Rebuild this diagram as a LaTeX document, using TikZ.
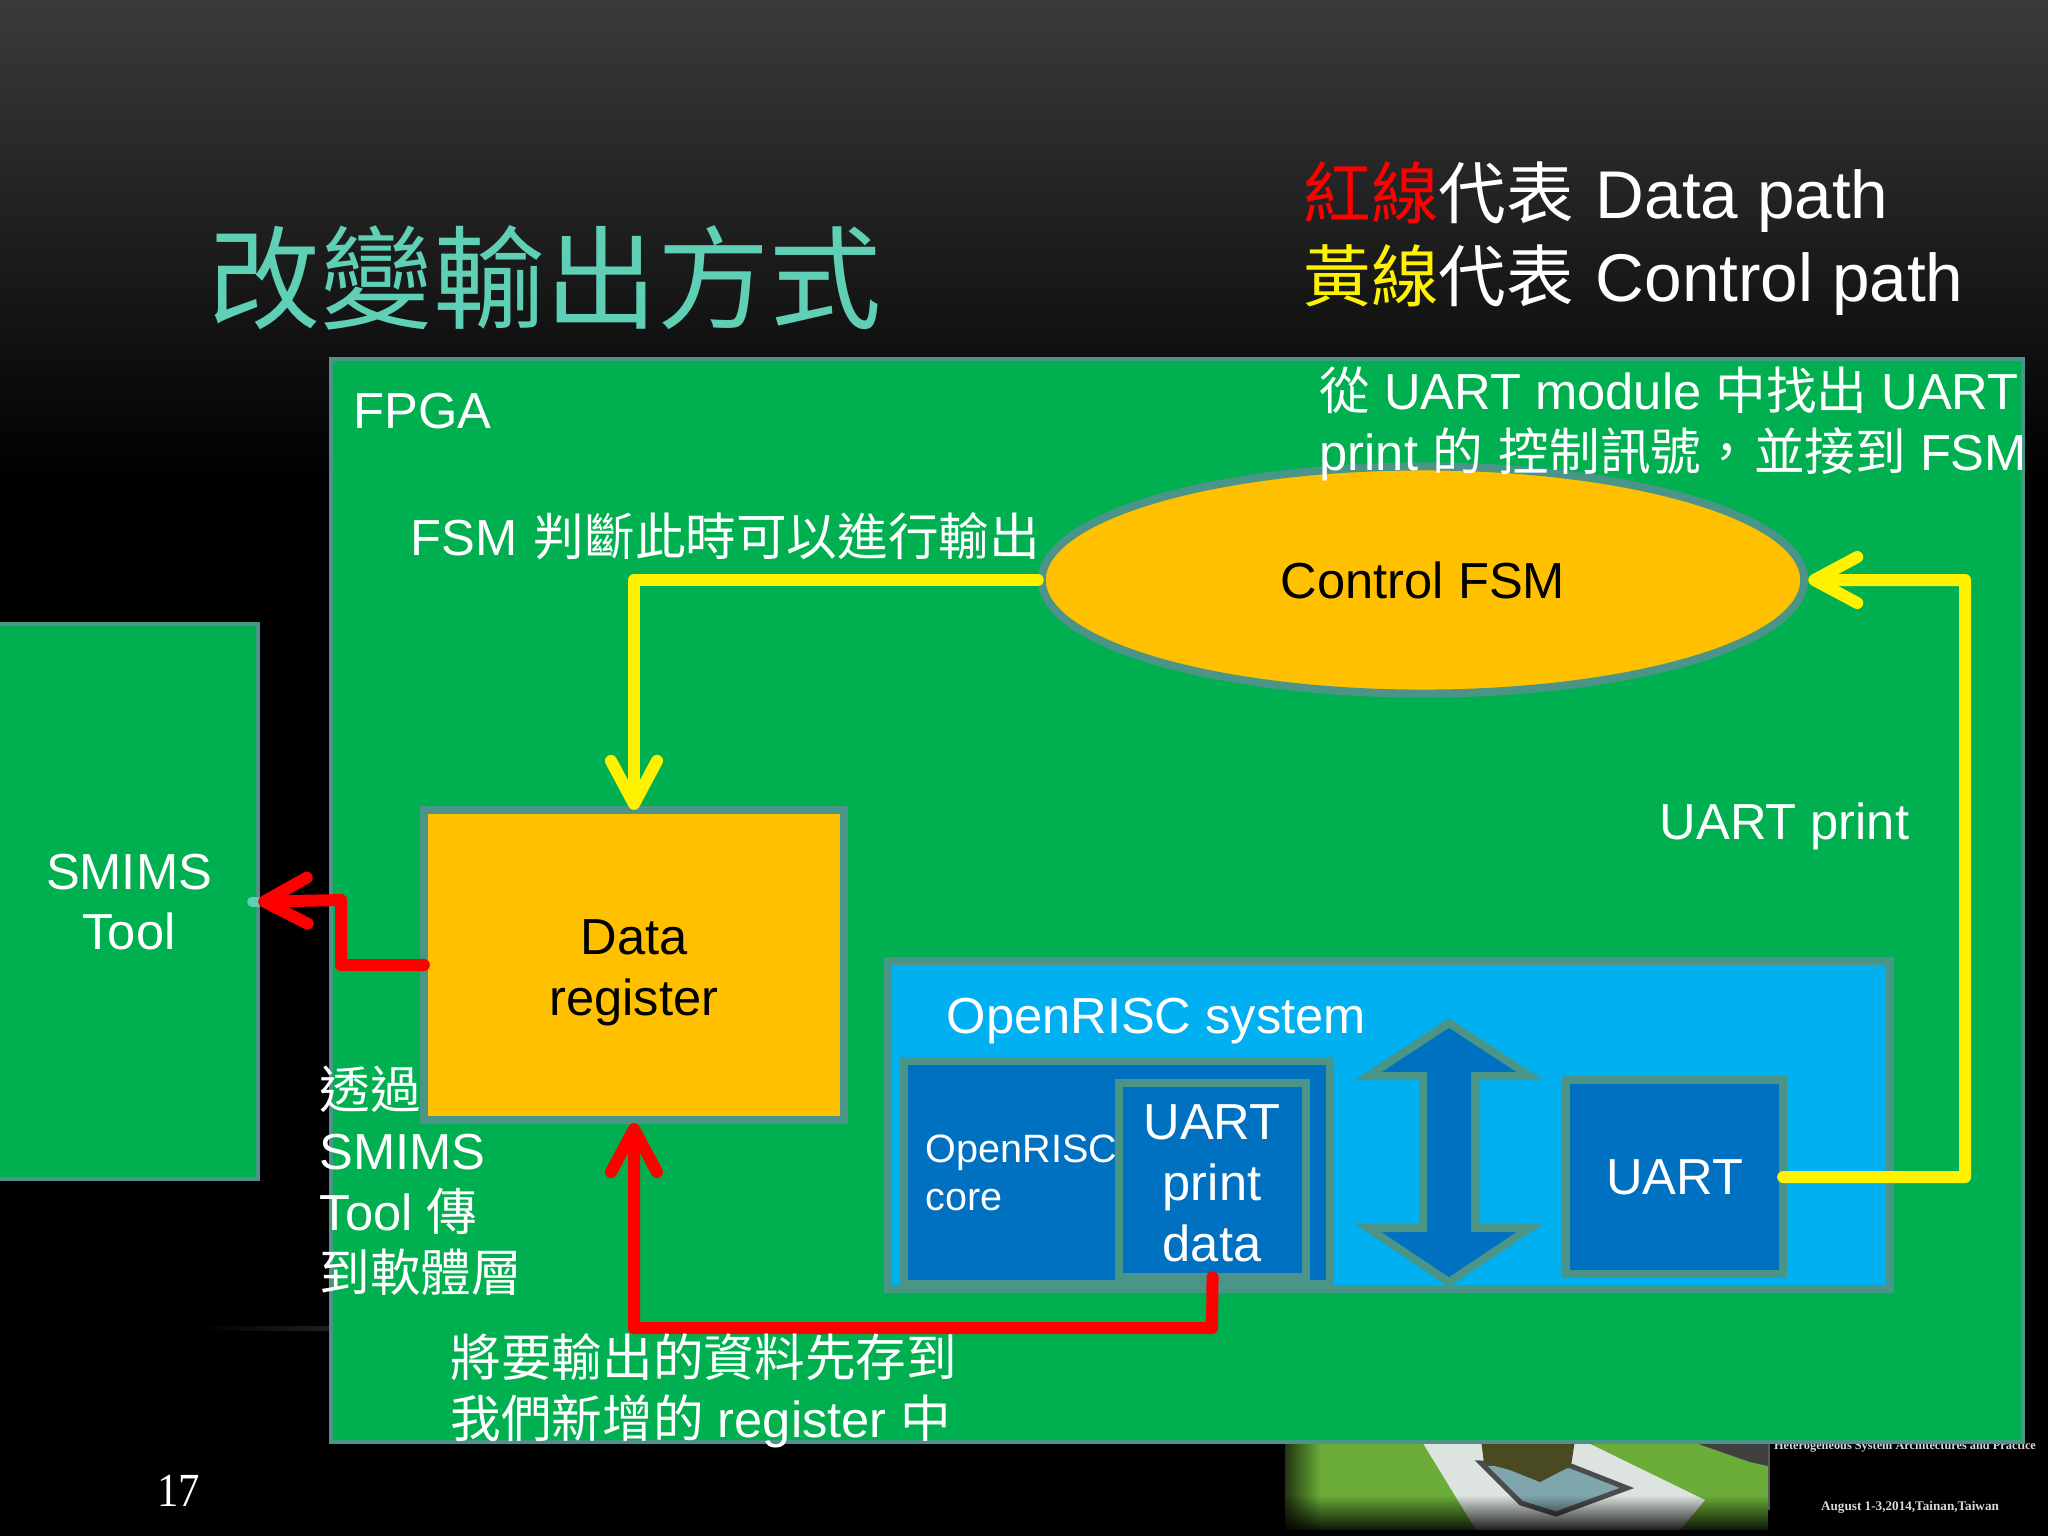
\documentclass[tikz,border=0pt]{standalone}
\usepackage{fontspec}
\setmainfont{Liberation Sans}
\newfontfamily\cjkfont{Noto Sans CJK TC}
\newfontfamily\serifpart{Liberation Serif}
\newcommand{\zh}[1]{{\cjkfont #1}}
\usetikzlibrary{positioning}
\usetikzlibrary{arrows.meta}
\usetikzlibrary{shapes.geometric}
\usetikzlibrary{fadings}

\definecolor{fpgagreen}{HTML}{00B050}
\definecolor{amberfill}{HTML}{FFC000}
\definecolor{sysblue}{HTML}{00B0F0}
\definecolor{coreblue}{HTML}{0070C0}
\definecolor{edgeteal}{HTML}{4A9488}
\definecolor{titlemint}{HTML}{5FCFB5}
\definecolor{grassgreen}{HTML}{6BAD38}
\definecolor{pathgrey}{HTML}{DDE3DF}
\definecolor{pondblue}{HTML}{7FA6AC}
\definecolor{pondshade}{HTML}{4A4A22}

\tikzset{
  thinbox/.style={draw=edgeteal, line width=0.04cm, fill=fpgagreen, inner sep=0, outer sep=0},
  wideedge/.style={draw=edgeteal, line width=0.08cm, inner sep=0, outer sep=0},
  amberbox/.style={wideedge, fill=amberfill, text=black},
  blockbox/.style={wideedge, fill=coreblue, text=white},
  plainlabel/.style={text=white, inner sep=0, anchor=base west, align=left},
  regular/.style={font=\fontsize{14.4}{17.3}\selectfont},
  datapath/.style={draw=red, line width=0.12cm, line cap=round, line join=round,
    -{Straight Barb[round,length=0.43cm,width=0.46cm]}},
  controlpath/.style={draw=yellow, line width=0.12cm, line cap=round, line join=round,
    -{Straight Barb[round,length=0.43cm,width=0.46cm]}},
  tinyserif/.style={text=white!85!black, inner sep=0, anchor=base}
}

\begin{document}
\begin{tikzpicture}[x=0.01cm, y=-0.01cm, regular]
  \useasboundingbox (0,0) rectangle (2048,1536);
  \fill[black] (0,0) rectangle (2048,1536);
  \shade[top color=black!77!white, bottom color=black] (0,0) rectangle (2048,480);
  \shade[left color=black, right color=black!88!white] (200,1326) rectangle (329,1330);

  % photo in the lower corner
  \fill[grassgreen] (1285,1440) rectangle (1768,1530);
  \fill[pathgrey] (1421,1440) -- (1582,1440) -- (1705,1500) -- (1680,1530) -- (1476,1530) -- cycle;
  \fill[pondblue, draw=black!70, line width=0.05cm] (1481,1463) -- (1571,1466) -- (1627,1488) -- (1556,1514) -- (1521,1503) -- cycle;
  \fill[pondshade] (1481,1440) -- (1575,1440) -- (1571,1466) -- (1540,1482) -- (1510,1470) -- (1484,1463) -- cycle;
  \fill[black!75] (1687,1440) -- (1768,1440) -- (1768,1466) -- (1750,1462) -- cycle;
  \fill[black, path fading=north] (1270,1495) rectangle (1775,1535);
  \fill[black, path fading=east] (1270,1440) rectangle (1320,1535);
  \fill[black!65!white] (1768,1443) rectangle (1770,1510);
  \node[tinyserif, font=\serifpart\bfseries\fontsize{3.5}{5}\selectfont] (venuetext) at (1905,1449) {Heterogeneous System Architectures and Practice};
  \node[tinyserif, font=\serifpart\bfseries\fontsize{3.75}{5}\selectfont] (datetext) at (1910,1510) {August 1-3,2014,Tainan,Taiwan};
  \node[text=white, inner sep=0, anchor=base west, xscale=0.9, font=\serifpart\fontsize{13.5}{16}\selectfont] (pagenum) at (157,1506) {17};

  % headings
  \node[inner sep=0, anchor=base west, text=titlemint, font=\cjkfont\fontsize{31.9}{38}\selectfont] (title) at (208,320) {改變輸出方式};
  \node[plainlabel, font=\fontsize{19.2}{23}\selectfont] (legenddata) at (1303,218) {\textcolor{red}{\zh{紅線}}\zh{代表}\hspace{0.9pt} Data path};
  \node[plainlabel, font=\fontsize{19.2}{23}\selectfont] (legendctrl) at (1303,301) {\textcolor{yellow}{\zh{黃線}}\zh{代表}\hspace{0.9pt} Control path};

  % boards
  \node[thinbox, minimum width=2.60cm, minimum height=5.55cm, anchor=north west] (smims) at (-2,624) {};
  \node[thinbox, minimum width=16.91cm, minimum height=10.82cm, anchor=north west] (fpga) at (331,359) {};
  \node[text=white, inner sep=0, align=center] (smimstext) at (129,902) {SMIMS\\Tool};
  \node[plainlabel] (fpgatext) at (353,428) {FPGA};

  % blocks
  \node[amberbox, minimum width=4.20cm, minimum height=3.10cm] (dataregister) at (634,965) {};
  \node[text=black, inner sep=0, align=center] (dataregtext) at (634,973) {Data\\register};
  \node[amberbox, ellipse, outer sep=0.04cm, minimum width=7.62cm, minimum height=2.27cm] (ctrlfsm) at (1423,580) {Control FSM};

  \node[wideedge, fill=sysblue, minimum width=10.01cm, minimum height=3.28cm, anchor=north west] (system) at (888,961) {};
  \node[blockbox, minimum width=4.26cm, minimum height=2.23cm, anchor=north west] (core) at (904,1061) {};
  \node[blockbox, minimum width=1.87cm, minimum height=1.94cm, anchor=north west] (printdata) at (1119,1083) {};
  \node[text=white, inner sep=0, align=center] (printtext) at (1212,1183) {UART\\print\\data};
  \node[blockbox, minimum width=2.17cm, minimum height=1.94cm, anchor=north west] (uart) at (1566,1080) {UART};
  \draw[wideedge, fill=coreblue] (1449,1023) -- (1530,1076) -- (1475,1076) -- (1475,1228) -- (1530,1228)
    -- (1449,1282) -- (1368,1228) -- (1423,1228) -- (1423,1076) -- (1368,1076) -- cycle;
  \node[plainlabel] (systemtext) at (946,1033) {OpenRISC system};
  \node[plainlabel, font=\fontsize{11.25}{13.6}\selectfont] (coretext) at (925,1210) {OpenRISC\\core};

  % connectors
  \draw[titlemint, line width=0.10cm, line cap=round] (smims.east) -- ++(-6,0);
  \draw[datapath] (dataregister.west) -- (341,965) -- (341,900) -- (smims.east);
  \draw[datapath] (printdata.south) -- (1212,1328) -| ([yshift=-0.03cm]dataregister.south);
  \draw[controlpath] (ctrlfsm.west) -| (dataregister.north);
  \draw[controlpath] (uart.east) -- (1965,1177) |- (ctrlfsm.east);

  % notes
  \node[plainlabel] (fsmnote) at (410,555) {FSM\hspace{0.6pt} \zh{判斷此時可以進行輸出}};
  \node[plainlabel] (uartprint) at (1659,839) {UART print};
  \node[plainlabel] (uartnote) at (1319,470) {\zh{從} UART module \zh{中找出} UART\\print \zh{的}\hspace{0.5pt} \zh{控制訊號，}\hspace{0.6pt}\zh{並接到} FSM};
  \node[plainlabel] (toolnote) at (319,1291) {\zh{透過}\\SMIMS\\Tool \zh{傳}\\\zh{到軟體層}};
  \node[plainlabel] (storenote) at (450,1437) {\zh{將要輸出的資料先存到}\\\zh{我們新增的} register \zh{中}};
\end{tikzpicture}
\end{document}
